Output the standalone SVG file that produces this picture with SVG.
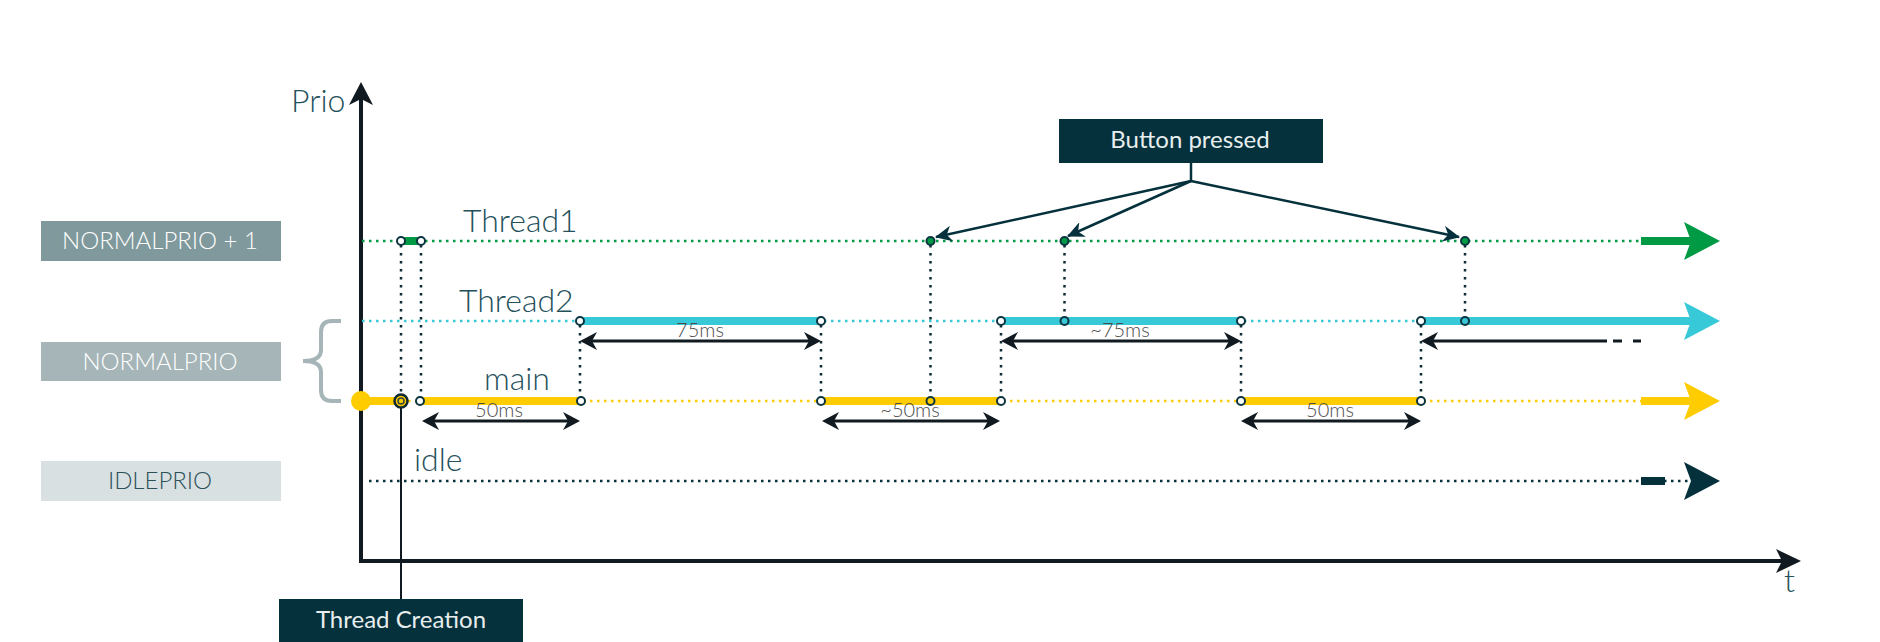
<svg xmlns="http://www.w3.org/2000/svg" width="1880" height="642" viewBox="0 0 1880 642">
<style>
.lbl{font-family:Lato,"Open Sans","Liberation Sans",sans-serif;font-weight:300;font-size:32px;fill:#24505b}
.box{font-family:Lato,"Open Sans","Liberation Sans",sans-serif;font-size:24px;text-anchor:middle}
.lt{font-weight:300}
.ms{font-family:Lato,"Open Sans","Liberation Sans",sans-serif;font-weight:300;font-size:20px;fill:#4d4d4d;text-anchor:middle}
.axis{stroke:#111a21;stroke-width:4;fill:none}
.hdot{stroke-width:2.5;stroke-dasharray:2.5 4.5;fill:none}
.vdot{stroke:#0c2a33;stroke-width:2.5;stroke-dasharray:2.5 5.5;fill:none}
.bar{stroke-width:8;fill:none}
.c{stroke:#0c3540;stroke-width:2;fill:#fff}
.cn{stroke:#0c3540;stroke-width:2;fill:none}
.cg{stroke:#0c3540;stroke-width:2;fill:#009a44}
.dim{stroke:#111a21;stroke-width:3;fill:none}
.ptr{stroke:#04313c;stroke-width:2.5;fill:none}
</style>
<defs>
<marker id="dimhead" viewBox="-9 -9 17 18" refX="0" refY="0" markerWidth="17" markerHeight="18" markerUnits="userSpaceOnUse" orient="auto-start-reverse">
<path d="M8,0 L-9,-9 L-4,0 L-9,9 Z" fill="#111a21"/>
</marker>
<marker id="ptrhead" viewBox="-16 -8 17 16" refX="0" refY="0" markerWidth="17" markerHeight="16" markerUnits="userSpaceOnUse" orient="auto">
<path d="M1,0 L-16,-8 L-11,0 L-16,8 Z" fill="#04313c"/>
</marker>
</defs>

<g id="prio-labels">
<g id="normalprio-plus-1">
<rect x="41" y="221" width="240" height="40" fill="#7f999c"/>
<text class="box lt" x="160" y="249" fill="#ffffff">NORMALPRIO + 1</text>
</g>
<g id="normalprio">
<rect x="41" y="342" width="240" height="39" fill="#a5b5b8"/>
<text class="box lt" x="160" y="370" fill="#ffffff">NORMALPRIO</text>
<path d="M341,321 L332,321 Q321,321 321,332 L321,350 Q321,361 303,361 Q321,361 321,372 L321,390 Q321,401 332,401 L341,401" stroke="#a5b5b8" stroke-width="4" fill="none"/>
</g>
<g id="idleprio">
<rect x="41" y="461" width="240" height="40" fill="#d8e0e1"/>
<text class="box lt" x="160" y="489" fill="#2c5159">IDLEPRIO</text>
</g>
</g>

<g id="axes">
<path class="axis" d="M361,98 L361,561 L1784,561" stroke-linejoin="miter"/>
<polygon points="361,82 373,105 361,99 349,105" fill="#111a21"/>
<polygon points="1801,561 1776,573 1782,561 1776,549" fill="#111a21"/>
<text class="lbl" x="291" y="112">Prio</text>
<text class="lbl" x="1784" y="592">t</text>
</g>

<g id="thread1">
<text class="lbl" x="463" y="232">Thread1</text>
<line class="hdot" x1="362" y1="241" x2="1641" y2="241" stroke="#009a44"/>
<line class="bar" x1="401" y1="241" x2="421" y2="241" stroke="#009a44"/>
<line class="bar" x1="1641" y1="241" x2="1692" y2="241" stroke="#009a44"/>
<polygon points="1720,241 1684,222 1691,241 1684,260" fill="#009a44"/>
</g>

<g id="thread2">
<text class="lbl" x="459" y="312">Thread2</text>
<line class="hdot" x1="362" y1="321" x2="1421" y2="321" stroke="#38c9d8"/>
<line class="bar" x1="580" y1="321" x2="821" y2="321" stroke="#38c9d8"/>
<line class="bar" x1="1001" y1="321" x2="1241" y2="321" stroke="#38c9d8"/>
<line class="bar" x1="1421" y1="321" x2="1692" y2="321" stroke="#38c9d8"/>
<polygon points="1720,321 1684,302 1691,321 1684,340" fill="#38c9d8"/>
</g>

<g id="main">
<text class="lbl" x="484" y="390">main</text>
<line class="hdot" x1="401" y1="401" x2="1641" y2="401" stroke="#ffcc00"/>
<line class="bar" x1="361" y1="401" x2="401" y2="401" stroke="#ffcc00"/>
<circle cx="361" cy="401" r="10" fill="#ffcc00"/>
<line class="bar" x1="420" y1="401" x2="581" y2="401" stroke="#ffcc00"/>
<line class="bar" x1="821" y1="401" x2="1001" y2="401" stroke="#ffcc00"/>
<line class="bar" x1="1241" y1="401" x2="1421" y2="401" stroke="#ffcc00"/>
<line class="bar" x1="1641" y1="401" x2="1692" y2="401" stroke="#ffcc00"/>
<polygon points="1720,401 1684,382 1691,401 1684,420" fill="#ffcc00"/>
</g>

<g id="idle">
<text class="lbl" x="414" y="471">idle</text>
<line class="hdot" x1="369" y1="481" x2="1690" y2="481" stroke="#04313c"/>
<line x1="1641" y1="481" x2="1665" y2="481" stroke="#04313c" stroke-width="8"/>
<polygon points="1720,481 1684,462 1691,481 1684,500" fill="#04313c"/>
</g>

<g id="thread-creation">
<rect x="279" y="599" width="244" height="43" fill="#04313c"/>
<text class="box" x="401" y="628" fill="#e8eeee">Thread Creation</text>
</g>

<g id="button-pressed">
<rect x="1059" y="119" width="264" height="44" fill="#04313c"/>
<text class="box" x="1190" y="148" fill="#e8eeee">Button pressed</text>
</g>

<g id="connectors">
<line class="vdot" x1="401" y1="245" x2="401" y2="397"/>
<line class="vdot" x1="421" y1="245" x2="421" y2="397"/>
<line x1="401" y1="407" x2="401" y2="599" stroke="#111a21" stroke-width="2"/>
<line class="vdot" x1="580" y1="325" x2="580" y2="397"/>
<line class="vdot" x1="821" y1="325" x2="821" y2="397"/>
<line class="vdot" x1="930.5" y1="245" x2="930.5" y2="397"/>
<line class="vdot" x1="1001" y1="325" x2="1001" y2="397"/>
<line class="vdot" x1="1064.5" y1="245" x2="1064.5" y2="317"/>
<line class="vdot" x1="1241" y1="325" x2="1241" y2="397"/>
<line class="vdot" x1="1421" y1="325" x2="1421" y2="397"/>
<line class="vdot" x1="1465" y1="245" x2="1465" y2="317"/>

<line class="ptr" x1="1191" y1="163" x2="1191" y2="181"/>
<line class="ptr" x1="1191" y1="181" x2="936" y2="237" marker-end="url(#ptrhead)"/>
<line class="ptr" x1="1191" y1="181" x2="1068" y2="236" marker-end="url(#ptrhead)"/>
<line class="ptr" x1="1191" y1="181" x2="1459" y2="237" marker-end="url(#ptrhead)"/>

<line class="dim" x1="430" y1="421" x2="572" y2="421" marker-start="url(#dimhead)" marker-end="url(#dimhead)"/>
<line class="dim" x1="588" y1="341" x2="813" y2="341" marker-start="url(#dimhead)" marker-end="url(#dimhead)"/>
<line class="dim" x1="830" y1="421" x2="992" y2="421" marker-start="url(#dimhead)" marker-end="url(#dimhead)"/>
<line class="dim" x1="1009" y1="341" x2="1233" y2="341" marker-start="url(#dimhead)" marker-end="url(#dimhead)"/>
<line class="dim" x1="1249" y1="421" x2="1413" y2="421" marker-start="url(#dimhead)" marker-end="url(#dimhead)"/>
<line class="dim" x1="1607" y1="341" x2="1429" y2="341" marker-end="url(#dimhead)"/>
<line class="dim" x1="1613" y1="341" x2="1641" y2="341" stroke-dasharray="9 11"/>

<text class="ms" x="499" y="417">50ms</text>
<text class="ms" x="700" y="337">75ms</text>
<text class="ms" x="910" y="417">~50ms</text>
<text class="ms" x="1120" y="337">~75ms</text>
<text class="ms" x="1330" y="417">50ms</text>
</g>

<g id="event-points">
<circle class="c" cx="401" cy="241" r="4"/>
<circle class="c" cx="421" cy="241" r="4"/>
<circle class="cg" cx="930.5" cy="241" r="4"/>
<circle class="cg" cx="1064.5" cy="241" r="4"/>
<circle class="cg" cx="1465" cy="241" r="4"/>
<circle class="c" cx="580" cy="321" r="4"/>
<circle class="c" cx="821" cy="321" r="4"/>
<circle class="c" cx="1001" cy="321" r="4"/>
<circle class="cn" cx="1064.5" cy="321" r="4"/>
<circle class="c" cx="1241" cy="321" r="4"/>
<circle class="c" cx="1421" cy="321" r="4"/>
<circle class="cn" cx="1465" cy="321" r="4"/>
<circle cx="401" cy="401" r="6.5" fill="#ffcc00" stroke="#0f2a30" stroke-width="2.5"/>
<circle cx="401" cy="401" r="3" fill="none" stroke="#34443c" stroke-width="1.5"/>
<circle class="c" cx="420" cy="401" r="4"/>
<circle class="c" cx="581" cy="401" r="4"/>
<circle class="c" cx="821" cy="401" r="4"/>
<circle class="cn" cx="930.5" cy="401" r="4"/>
<circle class="c" cx="1001" cy="401" r="4"/>
<circle class="c" cx="1241" cy="401" r="4"/>
<circle class="c" cx="1421" cy="401" r="4"/>
</g>
</svg>
